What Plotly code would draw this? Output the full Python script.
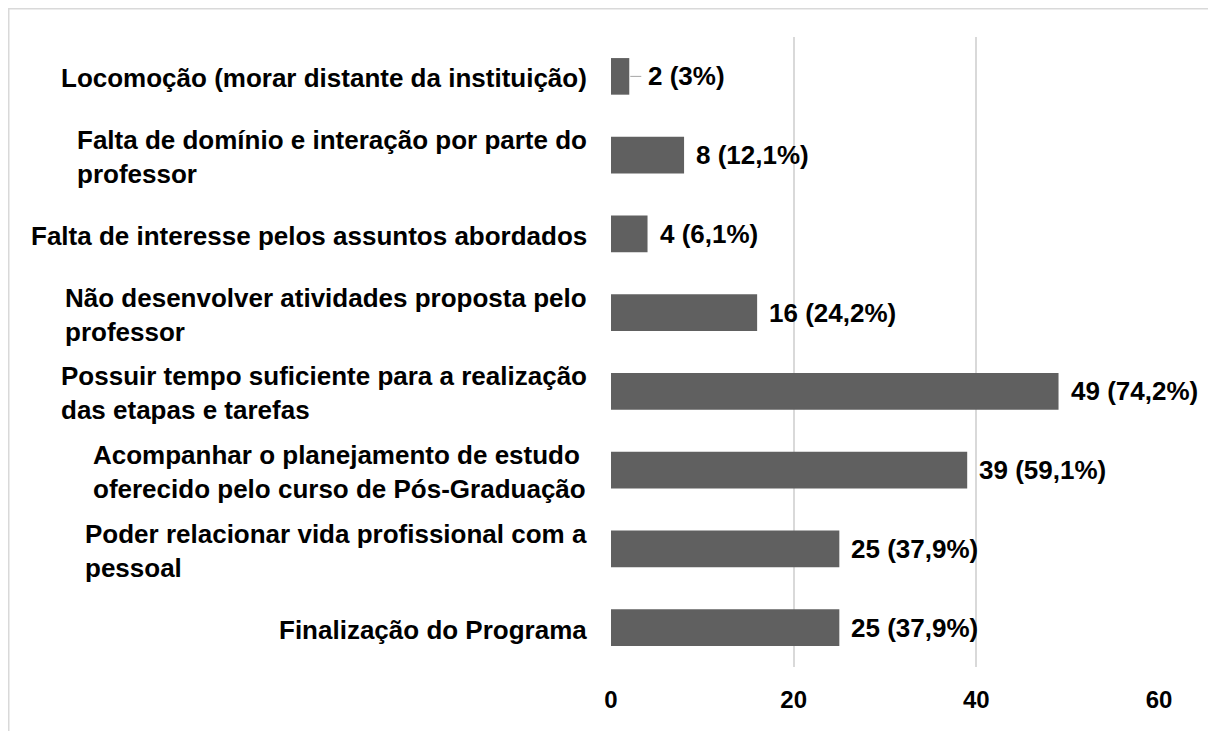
import plotly.graph_objects as go

categories = [
    "Locomoção (morar distante da instituição)",
    "Falta de domínio e interação por parte do<br>professor",
    "Falta de interesse pelos assuntos abordados",
    "Não desenvolver atividades proposta pelo<br>professor",
    "Possuir tempo suficiente para a realização<br>das etapas e tarefas",
    "Acompanhar o planejamento de estudo <br>oferecido pelo curso de Pós-Graduação",
    "Poder relacionar vida profissional com a<br>pessoal",
    "Finalização do Programa",
]
values = [2, 8, 4, 16, 49, 39, 25, 25]
labels = ["2 (3%)", "8 (12,1%)", "4 (6,1%)", "16 (24,2%)", "49 (74,2%)",
          "39 (59,1%)", "25 (37,9%)", "25 (37,9%)"]
x_ticks = [0, 20, 40, 60]

FONT = "Liberation Sans, Arial, sans-serif"
ids = [f"c{i}" for i in range(len(categories))]

fig = go.Figure()
fig.add_trace(go.Bar(
    x=values, y=ids, orientation="h",
    marker=dict(color="#606060", line=dict(width=0)),
    width=0.465,
    hoverinfo="skip",
))

annotations = []
for cid, cat in zip(ids, categories):
    annotations.append(dict(
        x=0, xref="paper", y=cid, yref="y", text=f"<b>{cat}</b>",
        xanchor="right", yanchor="middle", align="left", xshift=-22, yshift=-2,
        showarrow=False, font=dict(family=FONT, size=26, color="#000000"),
    ))
for i, (cid, v, lab) in enumerate(zip(ids, values, labels)):
    if i == 0:
        annotations.append(dict(
            x=v, y=cid, xref="x", yref="y", text=f"<b>{lab}</b>",
            showarrow=True, arrowhead=0, arrowwidth=1, arrowcolor="#a6a6a6",
            ax=12, ay=0, xanchor="left", yanchor="middle", standoff=1,
            borderpad=6,
            font=dict(family=FONT, size=26, color="#000000"),
        ))
    else:
        annotations.append(dict(
            x=v, y=cid, xref="x", yref="y", text=f"<b>{lab}</b>",
            showarrow=False, xanchor="left", yanchor="middle", xshift=10,
            font=dict(family=FONT, size=26, color="#000000"),
        ))

fig.update_layout(
    width=1216, height=731,
    margin=dict(l=603, r=65, t=29, b=72),
    paper_bgcolor="white", plot_bgcolor="white",
    showlegend=False,
    bargap=0.53,
    annotations=annotations,
    shapes=[dict(type="rect", xref="paper", yref="paper",
                 x0=-1.099, x1=1.5, y0=-0.5, y1=1.0448,
                 line=dict(color="#d9d9d9", width=1.5), fillcolor="rgba(0,0,0,0)",
                 layer="below")],
    xaxis=dict(range=[0, 60], tickvals=x_ticks, ticktext=[f"<b>{t}</b>" for t in x_ticks],
               showgrid=True, gridcolor="#d9d9d9", gridwidth=1.5,
               zeroline=False, showline=False, ticks="",
               tickfont=dict(family=FONT, size=24, color="#000000"),
               ticklabelstandoff=16),
    yaxis=dict(categoryorder="array", categoryarray=ids, autorange="reversed",
               showticklabels=False, showgrid=False, zeroline=False, ticks=""),
)

fig.write_html("out.html")
